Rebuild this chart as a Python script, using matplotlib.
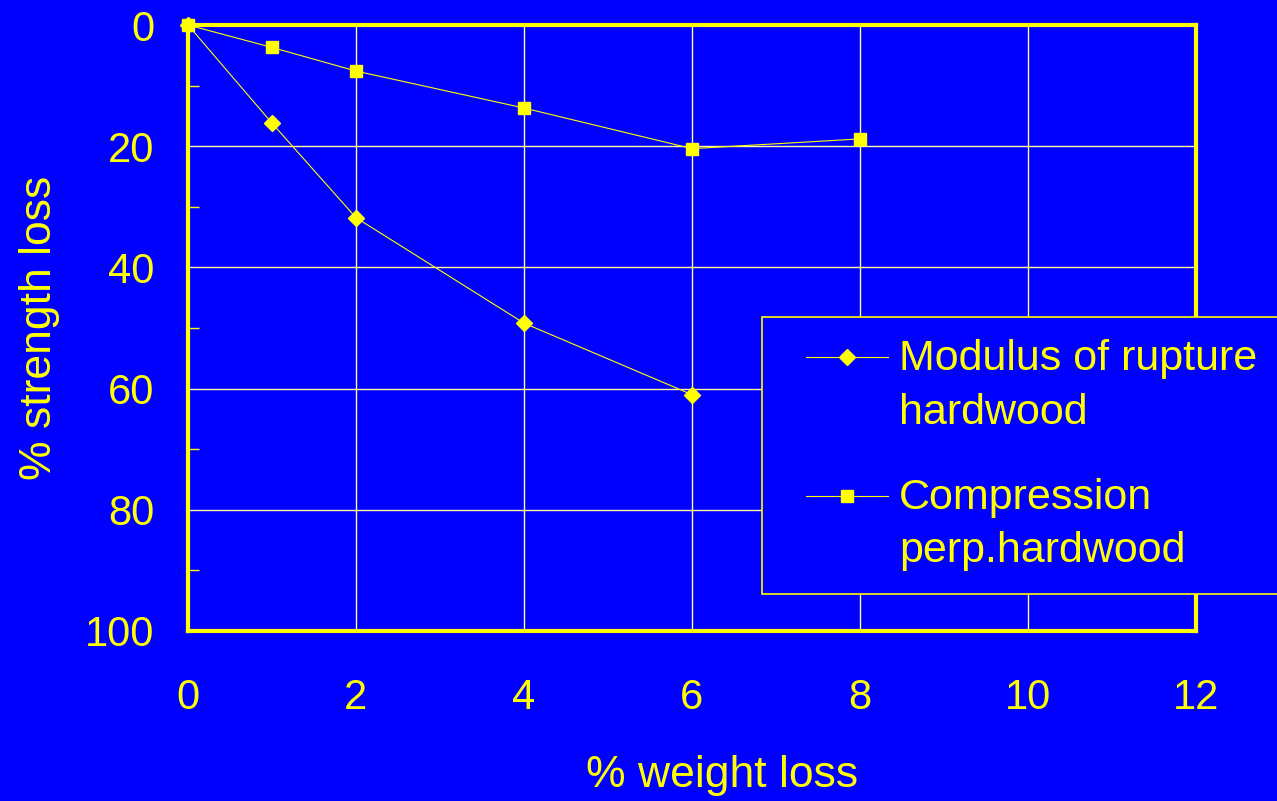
import matplotlib
matplotlib.use("Agg")
import matplotlib.pyplot as plt
import numpy as np
from matplotlib.ticker import MultipleLocator
from matplotlib.legend_handler import HandlerLine2D

plt.rcParams['font.family'] = ['Liberation Sans', 'DejaVu Sans']

# data
rupture_x = [0, 1, 2, 4, 6]
rupture_y = [0, 16.2, 31.8, 49.2, 61.0]
compr_x = [0, 1, 2, 4, 6, 8]
compr_y = [0, 3.7, 7.6, 13.7, 20.4, 18.8]
labels = ["Modulus of rupture\nhardwood", "Compression\nperp.hardwood"]

BLUE = "#0000ff"
YEL = "#ffff00"


class ShiftedHandler(HandlerLine2D):
    # legend handle sits next to the first text line, a bit in from the frame
    def __init__(self, dx, dy, **kw):
        super().__init__(**kw)
        self.dx, self.dy = dx, dy

    def create_artists(self, legend, orig_handle, xdescent, ydescent,
                       width, height, fontsize, trans):
        arts = super().create_artists(legend, orig_handle, xdescent, ydescent,
                                      width, height, fontsize, trans)
        for a in arts:
            a.set_xdata(np.asarray(a.get_xdata()) + self.dx)
            a.set_ydata(np.asarray(a.get_ydata()) + self.dy)
        return arts


fig = plt.figure(figsize=(12.77, 8.01), dpi=100, facecolor=BLUE)
ax = fig.add_axes([188/1277, 1-631/801, (1196-188)/1277, (631-25)/801])
ax.set_facecolor(BLUE)

l1, = ax.plot(rupture_x, rupture_y, color=YEL, lw=0.8, marker='D', ms=8.5,
              mec=YEL, mfc=YEL, label=labels[0], clip_on=False, zorder=5)
l2, = ax.plot(compr_x, compr_y, color=YEL, lw=0.8, marker='s', ms=9,
              mec=YEL, mfc=YEL, label=labels[1], clip_on=False, zorder=5)

ax.set_xlim(0, 12)
ax.set_ylim(100, 0)
ax.xaxis.set_major_locator(MultipleLocator(2))
ax.yaxis.set_major_locator(MultipleLocator(20))
ax.yaxis.set_minor_locator(MultipleLocator(10))
ax.grid(True, which='major', color='#ffffa0', lw=1.0)

for s in ax.spines.values():
    s.set_color(YEL)
    s.set_linewidth(3)

ax.tick_params(axis='x', which='major', length=0, pad=34, labelsize=30, labelcolor=YEL)
ax.tick_params(axis='y', which='major', length=0, pad=24, labelsize=30, labelcolor=YEL)
ax.tick_params(axis='y', which='minor', direction='in', length=8, width=1, color=YEL)

ax.set_ylabel("% strength loss", fontsize=32, color=YEL, labelpad=18)
fig.text(722/1277, 1-775/801, "% weight loss", fontsize=32, color=YEL,
         ha='center', va='center')

hm = ShiftedHandler(dx=15.5, dy=21)
leg = fig.legend(handles=[l1, l2], loc='upper left',
                 bbox_to_anchor=(762/1277, 1-317/801),
                 fontsize=31, frameon=True, fancybox=False, facecolor=BLUE,
                 edgecolor=YEL, labelcolor=YEL, handlelength=1.9,
                 handletextpad=0.76, borderpad=0.52, labelspacing=1.05,
                 borderaxespad=0, handler_map={l1: hm, l2: hm})
leg.get_frame().set_linewidth(1.2)
leg.get_frame().set_alpha(None)
for t in leg.get_texts():
    t.set_linespacing(1.43)

fig.savefig("out.png", dpi=100, facecolor=BLUE)
